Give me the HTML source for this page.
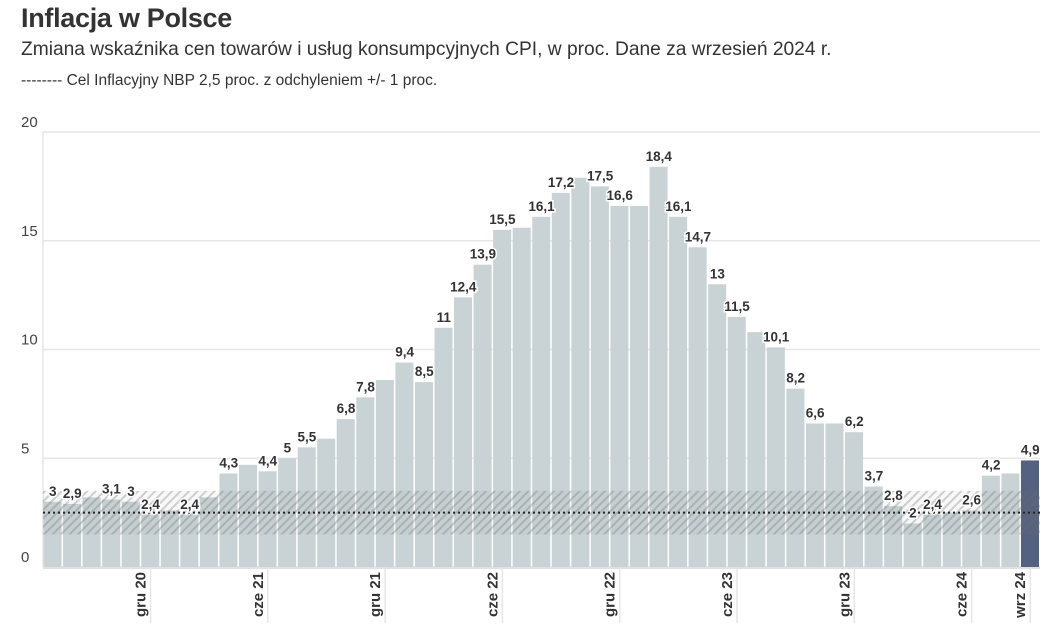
<!DOCTYPE html>
<html><head><meta charset="utf-8">
<style>
body{margin:0;background:#fff;font-family:"Liberation Sans",sans-serif;}
#wrap{position:relative;width:1060px;height:629px;overflow:hidden}
h1{position:absolute;left:21px;top:3px;margin:0;font-size:27px;font-weight:bold;color:#333;letter-spacing:-0.3px}
.sub{position:absolute;left:21px;top:39px;font-size:19.2px;color:#333}
.note{position:absolute;left:21px;top:72px;font-size:15.5px;color:#333}
svg{position:absolute;left:0;top:0}
.lbl{font-size:13.5px;font-weight:bold;fill:#333;stroke:#fff;stroke-width:3px;paint-order:stroke;text-anchor:middle}
.yt{font-size:15px;fill:#444}
.xt{font-size:15px;font-weight:bold;fill:#333}
</style></head><body>
<div id="wrap">
<h1>Inflacja w Polsce</h1>
<div class="sub">Zmiana wskaźnika cen towarów i usług konsumpcyjnych CPI, w proc. Dane za wrzesień 2024 r.</div>
<div class="note">-------- Cel Inflacyjny NBP 2,5 proc. z odchyleniem +/- 1 proc.</div>
<svg id="chart" width="1060" height="629">
<defs>
<pattern id="hatch" width="6" height="6" patternUnits="userSpaceOnUse" patternTransform="rotate(45)">
<rect width="6" height="6" fill="rgba(120,120,120,0.05)"/>
<rect width="2" height="6" fill="rgba(110,110,110,0.3)"/>
</pattern>
</defs>
</svg>
</div>
<script>
const values=[3,2.9,3.2,3.1,3.0,2.4,2.6,2.4,3.2,4.3,4.7,4.4,5.0,5.5,5.9,6.8,7.8,8.6,9.4,8.5,11,12.4,13.9,15.5,15.6,16.1,17.2,17.9,17.5,16.6,16.6,18.4,16.1,14.7,13,11.5,10.8,10.1,8.2,6.6,6.6,6.2,3.7,2.8,2.0,2.4,2.5,2.6,4.2,4.3,4.9];
const shownLabels=[0,1,3,4,5,7,9,11,12,13,15,16,18,19,20,21,22,23,25,26,28,29,31,32,33,34,35,37,38,39,41,42,43,44,45,47,48,50];
const yTicks=[0,5,10,15,20];
const xTickIdx=[5,11,17,23,29,35,41,47,50];
const xTickLabels=["gru 20","cze 21","gru 21","cze 22","gru 22","cze 23","gru 23","cze 24","wrz 24"];
const bandLow=1.5,bandHigh=3.5,target=2.5;

const svg=document.getElementById('chart');
const NS='http://www.w3.org/2000/svg';
const X0=43,X1=1040,Y0=567,Y20=132;
const bw=(X1-X0)/values.length;
const y=v=>Y0-(v/20)*(Y0-Y20);
const x=i=>X0+i*bw;
function mk(t,a){const e=document.createElementNS(NS,t);for(const k in a)e.setAttribute(k,a[k]);svg.appendChild(e);return e;}

yTicks.forEach(t=>{
  const g=mk('line',{x1:X0,x2:X1,y1:y(t),y2:y(t),stroke:'#e6e6e6','stroke-width':1.5});
  
  
  const tx=mk('text',{x:21,y:y(t)-5,class:'yt'});tx.textContent=t;
  
  
});
const la=mk('line',{x1:X0,x2:X0,y1:Y20,y2:Y0,stroke:'#e6e6e6','stroke-width':1.5});



values.forEach((v,i)=>{
  const r=mk('rect',{x:x(i)+0.5,y:y(v),width:bw-1.5,height:Y0-y(v),fill:i===values.length-1?'#55627f':'#c9d3d6'});
  
  
});
const band=mk('rect',{x:X0,y:y(bandHigh),width:X1-X0,height:y(bandLow)-y(bandHigh),fill:'url(#hatch)'});


const tl=mk('line',{x1:X0,x2:X1,y1:y(target),y2:y(target),stroke:'#222','stroke-width':2,'stroke-dasharray':'2,3'});



shownLabels.forEach(i=>{
  const t=mk('text',{x:x(i)+bw/2,y:y(values[i])-6,class:'lbl'});
  t.textContent=String(values[i]).replace('.',',');
  
  
});

const ax=mk('line',{x1:X0,x2:X1,y1:Y0+1,y2:Y0+1,stroke:'#e0e0e0','stroke-width':2});


xTickIdx.forEach((idx,k)=>{
  const cx=x(idx)+bw/2;
  const tk=mk('line',{x1:cx,x2:cx,y1:Y0,y2:623,stroke:'#e6e6e6','stroke-width':1.5});
  
  
  const t=mk('text',{x:0,y:0,class:'xt','text-anchor':'end',transform:`translate(${cx-5},572) rotate(-90)`});
  t.textContent=xTickLabels[k];
  
  
});
</script>
</body></html>
